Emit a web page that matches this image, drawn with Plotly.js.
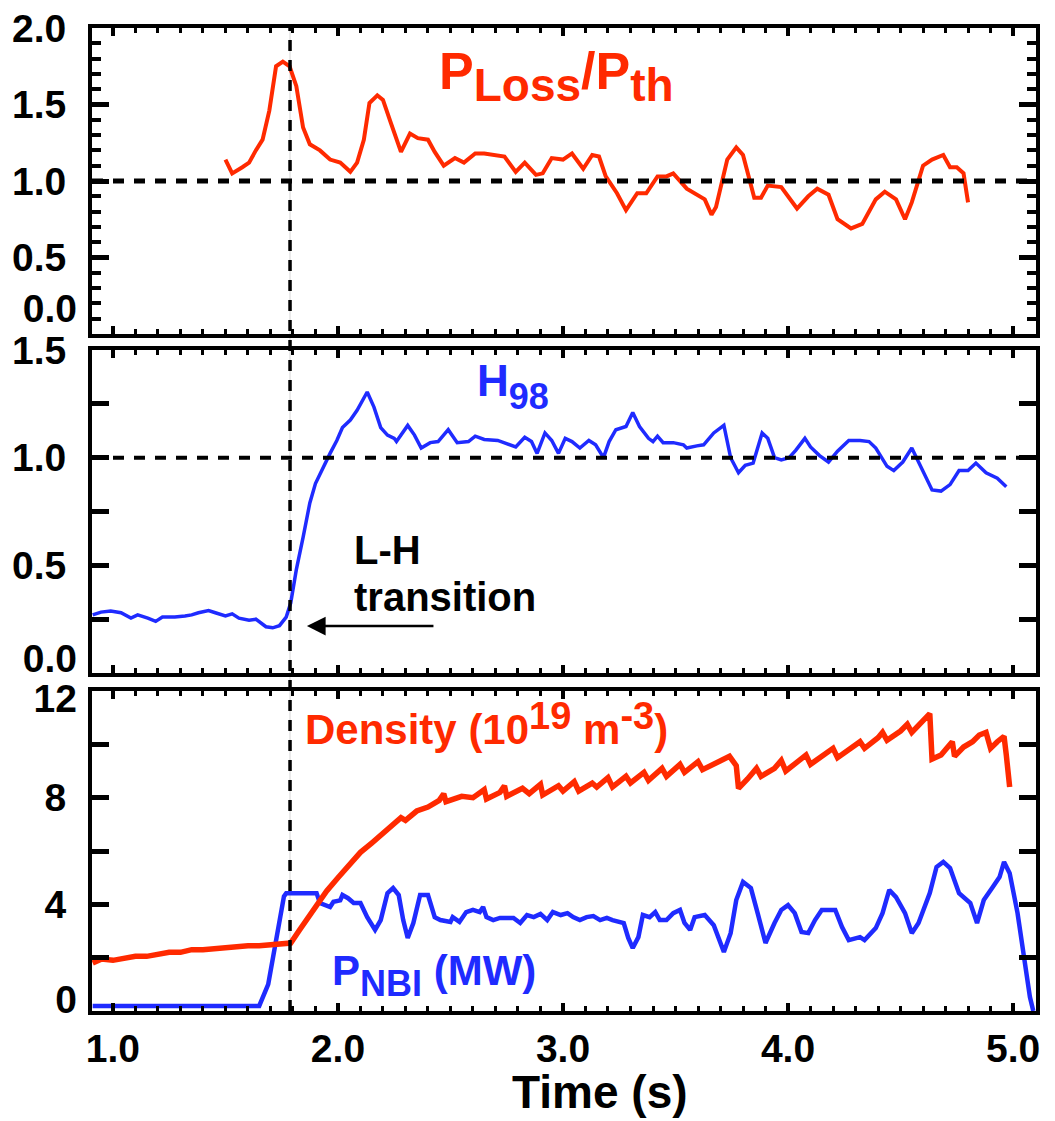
<!DOCTYPE html>
<html>
<head>
<meta charset="utf-8">
<script src="https://cdn.plot.ly/plotly-3.0.1.min.js"></script>
<style>html,body{margin:0;padding:0;background:#fff;}#chart{width:1055px;height:1121px;}</style>
</head>
<body>
<div id="chart"></div>
<script>
// ---------- data ----------
const LH_TIME = 1.787;     // L-H transition time (s)
const REF_LEVEL = 1.0;     // reference level for Ploss/Pth and H98

const tLoss = [1.50,1.53,1.575,1.605,1.635,1.665,1.695,1.725,1.755,1.785,1.815,1.845,1.875,1.92,1.965,2.01,2.055,2.085,2.115,2.14,2.175,2.20,2.235,2.28,2.32,2.355,2.40,2.43,2.47,2.52,2.56,2.61,2.65,2.71,2.74,2.79,2.83,2.88,2.91,2.95,3.00,3.04,3.09,3.13,3.16,3.19,3.24,3.28,3.33,3.37,3.42,3.46,3.49,3.55,3.63,3.66,3.68,3.73,3.77,3.80,3.85,3.88,3.91,3.97,4.04,4.09,4.13,4.18,4.22,4.28,4.33,4.39,4.43,4.48,4.52,4.55,4.60,4.64,4.69,4.72,4.75,4.78,4.80];
const pLossRatio = [1.14,1.05,1.09,1.12,1.20,1.27,1.46,1.75,1.78,1.75,1.62,1.35,1.24,1.20,1.14,1.12,1.06,1.12,1.27,1.51,1.56,1.53,1.38,1.19,1.31,1.28,1.27,1.19,1.10,1.15,1.12,1.18,1.18,1.17,1.16,1.06,1.12,1.04,1.05,1.15,1.14,1.18,1.08,1.17,1.16,1.03,0.92,0.81,0.92,0.92,1.03,1.03,1.05,0.95,0.88,0.78,0.83,1.14,1.22,1.17,0.89,0.89,0.97,0.96,0.82,0.90,0.95,0.91,0.75,0.69,0.72,0.88,0.93,0.88,0.75,0.86,1.10,1.14,1.17,1.09,1.09,1.05,0.86];

const tH98 = [0.91,0.947,0.99,1.036,1.08,1.11,1.155,1.19,1.22,1.275,1.32,1.35,1.38,1.425,1.455,1.50,1.53,1.56,1.605,1.635,1.68,1.71,1.74,1.77,1.79,1.815,1.845,1.875,1.90,1.935,1.965,1.995,2.02,2.055,2.085,2.13,2.16,2.19,2.22,2.25,2.26,2.31,2.34,2.37,2.41,2.445,2.49,2.53,2.58,2.61,2.65,2.71,2.79,2.83,2.86,2.885,2.92,2.95,2.98,3.01,3.04,3.075,3.115,3.145,3.18,3.205,3.235,3.28,3.31,3.34,3.38,3.40,3.42,3.445,3.49,3.535,3.55,3.595,3.625,3.67,3.715,3.745,3.78,3.81,3.845,3.885,3.91,3.94,3.97,4.005,4.035,4.075,4.10,4.14,4.18,4.22,4.27,4.32,4.36,4.39,4.44,4.47,4.51,4.55,4.60,4.64,4.68,4.72,4.76,4.80,4.835,4.88,4.93,4.97];
const h98 = [0.27,0.283,0.288,0.28,0.255,0.27,0.255,0.24,0.26,0.26,0.265,0.27,0.28,0.29,0.28,0.265,0.275,0.255,0.245,0.25,0.215,0.21,0.22,0.26,0.325,0.48,0.63,0.79,0.88,0.96,1.02,1.08,1.14,1.175,1.22,1.305,1.235,1.14,1.105,1.09,1.075,1.15,1.105,1.045,1.07,1.075,1.13,1.07,1.075,1.10,1.085,1.08,1.05,1.095,1.075,1.02,1.115,1.08,1.02,1.09,1.075,1.045,1.08,1.06,1.00,1.075,1.13,1.145,1.21,1.145,1.09,1.075,1.10,1.07,1.07,1.06,1.045,1.055,1.06,1.115,1.15,1.00,0.93,0.965,0.975,1.115,1.09,1.00,0.99,1.00,1.035,1.09,1.05,1.01,0.98,1.03,1.08,1.08,1.075,1.045,0.96,0.94,0.98,1.045,0.94,0.85,0.845,0.875,0.94,0.94,0.975,0.93,0.905,0.865];

const tDensity = [0.91,0.95,1.00,1.05,1.10,1.15,1.20,1.25,1.30,1.35,1.40,1.45,1.50,1.55,1.60,1.65,1.70,1.75,1.79,1.83,1.87,1.91,1.95,2.00,2.05,2.10,2.15,2.20,2.25,2.28,2.30,2.35,2.40,2.45,2.47,2.48,2.55,2.60,2.65,2.66,2.72,2.74,2.75,2.82,2.85,2.90,2.91,2.98,3.00,3.05,3.07,3.13,3.15,3.20,3.22,3.28,3.30,3.36,3.38,3.44,3.46,3.52,3.54,3.60,3.62,3.70,3.74,3.77,3.78,3.82,3.86,3.88,3.94,3.97,3.99,4.05,4.08,4.10,4.16,4.20,4.22,4.28,4.32,4.34,4.40,4.42,4.44,4.50,4.53,4.55,4.60,4.63,4.64,4.68,4.71,4.73,4.74,4.78,4.82,4.85,4.88,4.90,4.93,4.96,4.97,4.985];
const density = [1.80,1.95,1.90,2.00,2.05,2.05,2.15,2.20,2.20,2.30,2.30,2.35,2.40,2.40,2.45,2.45,2.50,2.50,2.55,3.05,3.55,4.00,4.50,5.00,5.45,5.95,6.30,6.65,7.00,7.25,7.15,7.50,7.65,7.90,8.15,7.85,8.05,8.00,8.30,7.95,8.20,8.45,8.05,8.35,8.15,8.50,8.10,8.45,8.25,8.60,8.25,8.55,8.40,8.75,8.40,8.80,8.55,8.95,8.65,9.10,8.80,9.25,8.95,9.35,9.05,9.35,9.55,9.20,8.35,8.70,9.10,8.80,9.10,9.40,9.00,9.40,9.60,9.25,9.60,9.85,9.50,9.85,10.10,9.85,10.25,10.45,10.15,10.50,10.75,10.45,10.90,11.15,9.45,9.60,9.90,10.10,9.55,9.90,10.10,10.35,10.45,9.85,10.10,10.30,9.60,8.40];

const tNBI = [0.91,1.20,1.50,1.65,1.69,1.73,1.76,1.77,1.905,1.92,1.965,1.98,2.01,2.02,2.045,2.07,2.10,2.13,2.165,2.19,2.22,2.245,2.27,2.29,2.31,2.335,2.365,2.40,2.43,2.455,2.50,2.51,2.54,2.57,2.60,2.63,2.645,2.66,2.69,2.72,2.78,2.81,2.84,2.87,2.90,2.93,2.955,2.99,3.02,3.045,3.075,3.105,3.135,3.165,3.195,3.22,3.27,3.29,3.31,3.335,3.355,3.385,3.41,3.43,3.46,3.49,3.52,3.54,3.565,3.585,3.63,3.67,3.715,3.745,3.77,3.80,3.835,3.865,3.90,3.94,3.97,4.00,4.03,4.06,4.09,4.12,4.15,4.21,4.24,4.27,4.32,4.34,4.39,4.42,4.45,4.48,4.52,4.55,4.58,4.63,4.66,4.69,4.72,4.76,4.81,4.84,4.87,4.91,4.94,4.96,4.985,5.02,5.05,5.075,5.09];
const pNBI = [0.19,0.19,0.19,0.19,1.0,3.0,4.3,4.42,4.42,4.05,3.90,4.10,4.15,4.35,4.23,4.05,4.05,3.52,3.04,3.41,4.42,4.61,4.35,3.41,2.74,3.30,4.35,4.35,3.52,3.41,3.34,3.52,3.34,3.71,3.79,3.71,3.90,3.52,3.41,3.49,3.49,3.30,3.60,3.52,3.64,3.41,3.71,3.60,3.67,3.52,3.41,3.52,3.56,3.41,3.49,3.41,3.30,2.74,2.36,2.77,3.60,3.52,3.71,3.41,3.41,3.67,3.79,3.30,3.04,3.52,3.60,3.22,2.21,2.92,4.16,4.84,4.61,3.67,2.55,3.30,3.79,3.97,3.67,2.96,2.92,3.41,3.79,3.79,3.15,2.66,2.77,2.66,3.11,3.67,4.54,4.27,3.67,2.92,3.30,4.42,5.40,5.59,5.36,4.42,4.05,3.30,4.16,4.65,5.02,5.59,5.17,3.67,2.02,0.52,0.0];

// tick labels
const xTickVals = [1,2,3,4,5];
const xTickText = ['1.0','2.0','3.0','4.0','5.0'];
const y1TickVals = [0.5,1.0,1.5,2.0];
const y1TickText = ['0.5','1.0','1.5','2.0'];
const y1LowVal = [0.165];   const y1LowText = ['0.0'];   // bottom label sits a little above its tick
const y2TickVals = [0.5,1.0,1.5];
const y2TickText = ['0.5','1.0','1.5'];
const y2LowVal = [0.07];    const y2LowText = ['0.0'];
const y3TickVals = [4,8];
const y3TickText = ['4','8'];
const y3EdgeVals = [0.45,11.74]; const y3EdgeText = ['0','12'];

// ---------- styling ----------
const RED = '#ff2a00';
const BLUE = '#1f2bff';
const FONT = 'Liberation Sans, Arial, Helvetica, sans-serif';
const XRANGE = [0.907, 5.102];
const tickFont = {family: FONT, size: 39, color: '#000', weight: 'bold'};

function xAxis(anchor, showLabels) {
  return {
    anchor: anchor, range: XRANGE, showgrid: false, zeroline: false,
    showline: true, linecolor: '#000', linewidth: 4, mirror: 'ticks',
    ticks: 'inside', ticklen: 8, tickwidth: 4, tickcolor: '#000',
    tickvals: xTickVals, ticktext: xTickText, showticklabels: showLabels,
    ticklabelstandoff: 0, tickfont: tickFont,
    minor: {dtick: 0.1, ticks: 'inside', ticklen: 5, tickwidth: 3, tickcolor: '#000', showgrid: false}
  };
}
function yAxis(anchor, domain, range, vals, text, minor) {
  return {
    anchor: anchor, domain: domain, range: range, showgrid: false, zeroline: false,
    showline: true, linecolor: '#000', linewidth: 4, mirror: 'ticks',
    ticks: 'inside', ticklen: 17, tickwidth: 5, tickcolor: '#000',
    tickvals: vals, ticktext: text, ticklabelstandoff: 14, tickfont: tickFont,
    minor: minor
  };
}
function labelAxis(over, anchorX, range, vals, text) {
  return {
    overlaying: over, anchor: anchorX, range: range, side: 'left',
    showgrid: false, zeroline: false, showline: false, ticks: '',
    tickvals: vals, ticktext: text, ticklabelstandoff: 14, tickfont: tickFont
  };
}

const traces = [
  {x: tLoss, y: pLossRatio, xaxis: 'x', yaxis: 'y', mode: 'lines', line: {color: RED, width: 4}, hoverinfo: 'skip'},
  {x: tH98, y: h98, xaxis: 'x2', yaxis: 'y2', mode: 'lines', line: {color: BLUE, width: 3.5}, hoverinfo: 'skip'},
  {x: tNBI, y: pNBI, xaxis: 'x3', yaxis: 'y3', mode: 'lines', line: {color: BLUE, width: 4.5}, hoverinfo: 'skip'},
  {x: tDensity, y: density, xaxis: 'x3', yaxis: 'y3', mode: 'lines', line: {color: RED, width: 5.5}, hoverinfo: 'skip'},
  // empty carriers so the label-only overlay axes are drawn
  {x: [], y: [], xaxis: 'x', yaxis: 'y4', mode: 'lines', hoverinfo: 'skip'},
  {x: [], y: [], xaxis: 'x2', yaxis: 'y5', mode: 'lines', hoverinfo: 'skip'},
  {x: [], y: [], xaxis: 'x3', yaxis: 'y6', mode: 'lines', hoverinfo: 'skip'}
];

// lowered / raised text pieces (near full-size sub- and superscripts as in the figure)
const lo = (s, size, shift) => '<span style="font-size:' + size + 'px;baseline-shift:-' + shift + 'px">' + s + '</span>';
const hi = (s, size, shift) => '<span style="font-size:' + size + 'px;baseline-shift:' + shift + 'px">' + s + '</span>';

const annFont = (size, color) => ({family: FONT, size: size, color: color, weight: 'bold'});
const annotations = [
  {xref: 'x', yref: 'y', x: 2.44, y: 1.68, xanchor: 'left', yanchor: 'middle', showarrow: false,
   text: 'P' + lo('Loss', 46, 12) + '/P' + lo('th', 46, 12), font: annFont(52, RED)},
  {xref: 'x2', yref: 'y2', x: 2.61, y: 1.33, xanchor: 'left', yanchor: 'middle', showarrow: false,
   text: 'H' + lo('98', 36, 13), font: annFont(44, BLUE)},
  {xref: 'x2', yref: 'y2', x: 2.062, y: 0.57, xanchor: 'left', yanchor: 'middle', showarrow: false,
   text: 'L-H', font: annFont(40, '#000')},
  {xref: 'x2', yref: 'y2', x: 2.062, y: 0.355, xanchor: 'left', yanchor: 'middle', showarrow: false,
   text: 'transition', font: annFont(40, '#000')},
  {xref: 'x2', yref: 'y2', axref: 'x2', ayref: 'y2', x: 1.862, y: 0.218, ax: 2.431, ay: 0.218,
   showarrow: true, arrowhead: 2, arrowsize: 1.5, arrowwidth: 2.5, arrowcolor: '#000', text: '', standoff: 0},
  {xref: 'x3', yref: 'y3', x: 1.844, y: 10.76, xanchor: 'left', yanchor: 'middle', showarrow: false,
   text: 'Density (10' + hi('19', 38, 15) + ' m' + hi('-3', 38, 15) + ')', font: annFont(42, RED)},
  {xref: 'x3', yref: 'y3', x: 1.965, y: 1.35, xanchor: 'left', yanchor: 'middle', showarrow: false,
   text: 'P' + lo('NBI', 36, 11) + ' (MW)', font: annFont(42, BLUE)},
  {xref: 'paper', yref: 'paper', x: 0.538, y: -0.082, xanchor: 'center', yanchor: 'middle', showarrow: false,
   text: 'Time (s)', font: annFont(46, '#000')}
];

const shapes = [
  {type: 'line', xref: 'x', yref: 'paper', x0: LH_TIME, x1: LH_TIME, y0: 0, y1: 1, layer: 'below',
   line: {color: '#d4d4d4', width: 1}},
  {type: 'line', xref: 'x', yref: 'paper', x0: LH_TIME, x1: LH_TIME, y0: 0, y1: 1,
   line: {color: '#000', width: 3.5, dash: '11px,9px'}},
  {type: 'line', xref: 'x', yref: 'y', x0: XRANGE[0], x1: XRANGE[1], y0: REF_LEVEL, y1: REF_LEVEL,
   line: {color: '#000', width: 5, dash: '11px,10px'}},
  {type: 'line', xref: 'x2', yref: 'y2', x0: XRANGE[0], x1: XRANGE[1], y0: REF_LEVEL, y1: REF_LEVEL,
   line: {color: '#000', width: 4, dash: '11px,10px'}}
];

const layout = {
  width: 1055, height: 1121,
  margin: {l: 92, r: 19, t: 28, b: 110},
  paper_bgcolor: '#fff', plot_bgcolor: '#fff',
  showlegend: false,
  xaxis: xAxis('y', false),
  xaxis2: xAxis('y2', false),
  xaxis3: xAxis('y3', true),
  yaxis: yAxis('x', [0.6887, 1], [0, 2], y1TickVals, y1TickText,
    {dtick: 0.1, ticks: 'inside', ticklen: 9, tickwidth: 4, tickcolor: '#000', showgrid: false}),
  yaxis2: yAxis('x2', [0.3438, 0.6724], [0, 1.5], y2TickVals, y2TickText,
    {dtick: 0.25, ticks: 'inside', ticklen: 17, tickwidth: 5, tickcolor: '#000', showgrid: false}),
  yaxis3: yAxis('x3', [0, 0.3255], [0, 12], y3TickVals, y3TickText,
    {dtick: 2, ticks: 'inside', ticklen: 17, tickwidth: 5, tickcolor: '#000', showgrid: false}),
  yaxis4: labelAxis('y', 'x', [0, 2], y1LowVal, y1LowText),
  yaxis5: labelAxis('y2', 'x2', [0, 1.5], y2LowVal, y2LowText),
  yaxis6: labelAxis('y3', 'x3', [0, 12], y3EdgeVals, y3EdgeText),
  annotations: annotations,
  shapes: shapes
};

Plotly.newPlot('chart', traces, layout, {staticPlot: true, displayModeBar: false});
</script>
</body>
</html>
